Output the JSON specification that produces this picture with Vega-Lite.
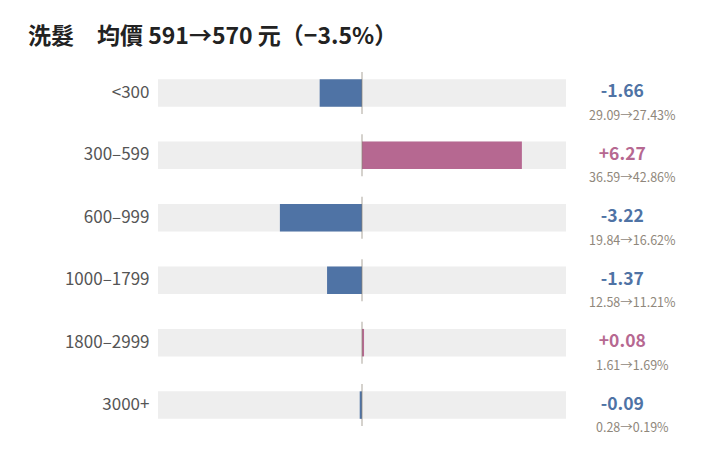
{
  "$schema": "https://vega.github.io/schema/vega-lite/v6.json",
  "width": 535.5,
  "height": 374,
  "autosize": {"type": "none"},
  "padding": {"left": 158, "top": 62, "right": 0, "bottom": 0},
  "background": "white",
  "config": {
    "view": {"stroke": null},
    "font": "Noto Sans CJK TC",
    "text": {"font": "Noto Sans CJK TC"}
  },
  "title": {
    "text": "洗髮　均價 591→570 元（−3.5%）",
    "anchor": "start",
    "frame": "group",
    "dx": -130,
    "offset": 13,
    "fontSize": 23,
    "fontWeight": "bold",
    "color": "#222222",
    "font": "Noto Sans CJK TC"
  },
  "data": {
    "values": [
      {"cat": "<300", "diff": -1.66, "label": "-1.66", "sub": "29.09→27.43%"},
      {"cat": "300–599", "diff": 6.27, "label": "+6.27", "sub": "36.59→42.86%"},
      {"cat": "600–999", "diff": -3.22, "label": "-3.22", "sub": "19.84→16.62%"},
      {"cat": "1000–1799", "diff": -1.37, "label": "-1.37", "sub": "12.58→11.21%"},
      {"cat": "1800–2999", "diff": 0.08, "label": "+0.08", "sub": "1.61→1.69%"},
      {"cat": "3000+", "diff": -0.09, "label": "-0.09", "sub": "0.28→0.19%"}
    ]
  },
  "encoding": {
    "y": {
      "field": "cat",
      "type": "nominal",
      "sort": null,
      "scale": {"paddingInner": 0.56, "paddingOuter": 0.275},
      "axis": {
        "title": null,
        "ticks": false,
        "domain": false,
        "labelFontSize": 17,
        "labelColor": "#555555",
        "labelPadding": 9,
        "labelFont": "Noto Sans CJK TC"
      }
    }
  },
  "layer": [
    {
      "mark": {"type": "bar", "color": "#eeeeee"},
      "encoding": {
        "x": {"datum": -8, "type": "quantitative", "scale": {"domain": [-8, 13], "nice": false, "zero": false}, "axis": null},
        "x2": {"datum": 8}
      }
    },
    {
      "mark": {"type": "bar"},
      "encoding": {
        "x": {"field": "diff", "type": "quantitative", "scale": {"domain": [-8, 13], "nice": false}, "axis": null},
        "color": {"condition": {"test": "datum.diff < 0", "value": "#4f73a5"}, "value": "#b66891"}
      }
    },
    {
      "mark": {"type": "tick", "orient": "vertical", "size": 42, "thickness": 1, "color": "#8a8273"},
      "encoding": {
        "x": {"datum": 0, "type": "quantitative", "axis": null}
      }
    },
    {
      "mark": {"type": "text", "fontSize": 17.5, "fontWeight": "bold", "baseline": "middle", "align": "center", "dx": -10, "dy": -0.5},
      "encoding": {
        "x": {"datum": 10.6, "type": "quantitative", "axis": null},
        "text": {"field": "label"},
        "color": {"condition": {"test": "datum.diff < 0", "value": "#4f73a5"}, "value": "#b66891"}
      }
    },
    {
      "mark": {"type": "text", "fontSize": 12.5, "baseline": "middle", "align": "center", "dy": 23, "color": "#8f877b"},
      "encoding": {
        "x": {"datum": 10.6, "type": "quantitative", "axis": null},
        "text": {"field": "sub"}
      }
    }
  ]
}
